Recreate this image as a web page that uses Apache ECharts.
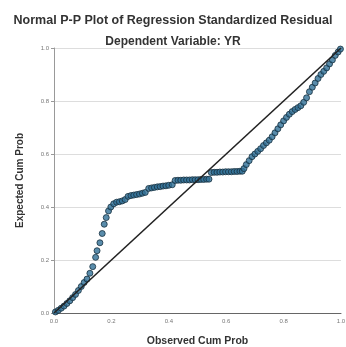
<!DOCTYPE html>
<html><head><meta charset="utf-8">
<script src="https://cdn.jsdelivr.net/npm/echarts@6/dist/echarts.min.js"></script>
<style>html,body{margin:0;padding:0;background:#fff}#c{width:346px;height:347px}</style>
</head><body><div id="c"></div>
<script>
var titleText = 'Normal P-P Plot of Regression Standardized Residual';
var subtitleText = 'Dependent Variable: YR';
var xName = 'Observed Cum Prob';
var yName = 'Expected Cum Prob';
var tickLabels = ['0.0','0.2','0.4','0.6','0.8','1.0'];
var observed = [0.005,0.015,0.025,0.035,0.045,0.055,0.065,0.075,0.085,0.095,0.105,0.115,0.125,0.135,0.145,0.150,0.160,0.168,0.175,0.182,0.190,0.198,0.208,0.218,0.228,0.238,0.248,0.258,0.268,0.278,0.288,0.298,0.308,0.318,0.330,0.340,0.350,0.360,0.370,0.380,0.390,0.400,0.412,0.422,0.432,0.442,0.452,0.462,0.472,0.482,0.492,0.502,0.512,0.522,0.532,0.540,0.548,0.558,0.568,0.578,0.588,0.598,0.608,0.618,0.628,0.638,0.648,0.656,0.662,0.670,0.680,0.690,0.700,0.710,0.720,0.730,0.740,0.750,0.760,0.770,0.780,0.790,0.800,0.810,0.820,0.830,0.840,0.850,0.860,0.870,0.880,0.890,0.900,0.910,0.920,0.930,0.940,0.950,0.960,0.970,0.980,0.990,0.998];
var expected = [0.004,0.010,0.018,0.026,0.036,0.046,0.058,0.070,0.085,0.100,0.115,0.128,0.150,0.175,0.210,0.235,0.265,0.300,0.335,0.360,0.385,0.400,0.412,0.418,0.420,0.423,0.428,0.440,0.443,0.445,0.447,0.449,0.452,0.455,0.470,0.472,0.474,0.476,0.477,0.479,0.480,0.482,0.484,0.500,0.501,0.501,0.502,0.502,0.502,0.503,0.503,0.503,0.504,0.504,0.505,0.505,0.530,0.531,0.531,0.532,0.532,0.533,0.533,0.533,0.534,0.534,0.535,0.535,0.545,0.560,0.575,0.590,0.600,0.610,0.620,0.632,0.642,0.652,0.665,0.680,0.695,0.710,0.725,0.738,0.750,0.760,0.768,0.775,0.782,0.795,0.812,0.835,0.852,0.868,0.885,0.900,0.912,0.925,0.940,0.955,0.972,0.985,0.996];
var diagonal = [[0,0],[1,1]];

var pts = observed.map(function(v,i){return [v, expected[i]];});
var chart = echarts.init(document.getElementById('c'), null, {renderer:'canvas'});
chart.setOption({
  animation:false,
  backgroundColor:'#fff',
  title:[
    {text:titleText, left:'center', top:9, textStyle:{fontFamily:'Liberation Sans, Arial, sans-serif', fontSize:12.5, fontWeight:'bold', color:'#333'}},
    {text:subtitleText, left:'center', top:31, textStyle:{fontFamily:'Liberation Sans, Arial, sans-serif', fontSize:12, fontWeight:'bold', color:'#333'}}
  ],
  grid:{left:54, right:5, top:48, bottom:34, outerBoundsMode:'none', containLabel:false},
  xAxis:{type:'value', min:0, max:1, interval:0.2,
    name:xName, nameLocation:'middle', nameGap:23,
    nameTextStyle:{fontFamily:'Liberation Sans, Arial, sans-serif', fontSize:10.5, fontWeight:'bold', color:'#333'},
    axisLine:{show:true, lineStyle:{color:'#666', width:1}},
    axisTick:{show:false},
    axisLabel:{fontSize:6, color:'#777', margin:5, formatter:function(v){return tickLabels[Math.round(v*5)];}},
    splitLine:{show:false}},
  yAxis:{type:'value', min:0, max:1, interval:0.2,
    name:yName, nameLocation:'middle', nameGap:29,
    nameTextStyle:{fontFamily:'Liberation Sans, Arial, sans-serif', fontSize:10, fontWeight:'bold', color:'#333'},
    axisLine:{show:true, lineStyle:{color:'#999', width:1}},
    axisTick:{show:true, length:3, lineStyle:{color:'#999'}},
    axisLabel:{fontSize:6, color:'#777', margin:5, formatter:function(v){return tickLabels[Math.round(v*5)];}},
    splitLine:{show:true, lineStyle:{color:'#ddd', width:1}}},
  series:[
    {type:'line', data:diagonal, symbol:'none', lineStyle:{color:'#222', width:1.6}, z:3},
    {type:'scatter', data:pts, symbol:'circle', symbolSize:6,
      itemStyle:{color:'#2f6f96', borderColor:'#17303f', borderWidth:1}, z:2}
  ]
});
</script></body></html>
